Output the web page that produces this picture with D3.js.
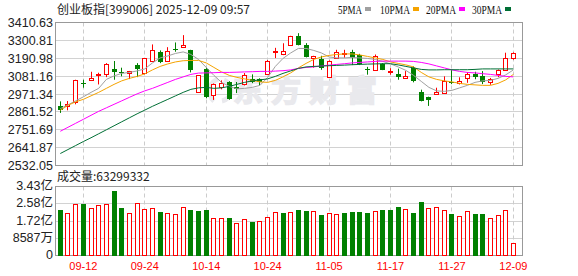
<!DOCTYPE html>
<html><head><meta charset="utf-8">
<script src="https://cdn.jsdelivr.net/npm/d3@7"></script>
<style>body{margin:0;background:#fff}svg{display:block}</style>
</head><body><svg id="c" width="578" height="276"></svg>
<script>
const titleText = "创业板指[399006] 2025-12-09 09:57";
const volLabelText = "成交量:63299332";
const dates = ["09-09","09-10","09-11","09-12","09-15","09-16","09-17","09-18","09-19","09-22","09-23","09-24","09-25","09-26","09-29","09-30","10-09","10-10","10-13","10-14","10-15","10-16","10-17","10-20","10-21","10-22","10-23","10-24","10-27","10-28","10-29","10-30","10-31","11-03","11-04","11-05","11-06","11-07","11-10","11-11","11-12","11-13","11-14","11-17","11-18","11-19","11-20","11-21","11-24","11-25","11-26","11-27","11-28","12-01","12-02","12-03","12-04","12-05","12-08","12-09"];
const openP = [2897.6,2896,2922,3038,3055,3088,3092,3122,3106,3100,3149,3100,3174,3227,3174,3250,3259,3239,2984,3127,2966,3014,3045,3014,3030,3064,3062,3094,3232,3218,3272,3325,3270,3190,3186,3075,3194,3218,3227,3214,3126,3120,3157,3106,3096,3071,3130,2986,2950,2974,2980,3046,3040,3070,3094,3080,3046,3094,3120,3194];
const highP = [2926,2928,3059,3059,3108,3102,3161,3174,3133,3113,3161,3190,3276,3239,3259,3288,3333,3243,3086,3133,3036,3055,3050,3045,3100,3092,3068,3180,3255,3283,3329,3345,3284,3206,3206,3178,3243,3243,3243,3218,3138,3214,3161,3130,3127,3112,3141,2998,2955,3010,3080,3118,3074,3106,3108,3112,3070,3122,3225,3227];
const lowP = [2855,2871,2908,3010,3051,3030,3075,3059,3080,3063,3075,3092,3170,3161,3170,3231,3255,3104,2981,2945,2935,3000,2936,2977,3024,3038,3025,3090,3192,3210,3268,3270,3196,3133,3120,3071,3190,3194,3149,3149,3090,3116,3118,3090,3059,3069,3043,2926,2898,2966,2972,3032,3030,3040,3062,3032,3028,3075,3118,3182];
const closeP = [2871,2908,3059,3030,3071,3096,3153,3104,3103,3112,3124,3190,3243,3165,3238,3241,3272,3116,3086,2953,3032,3039,2943,3000,3088,3045,3048,3176,3237,3234,3329,3272,3198,3202,3133,3174,3231,3222,3194,3153,3122,3206,3120,3110,3075,3079,3049,2928,2935,2986,3050,3036,3054,3097,3078,3046,3065,3116,3194,3226];
const prevClose0 = 2890;
const volume = [2.26,2.10,2.545,2.56,2.345,2.495,2.545,3.21,2.36,2.10,2.595,2.295,2.345,2.16,2.10,2.045,2.395,2.26,2.21,2.26,1.845,1.845,1.845,1.597,1.796,1.677,1.71,1.896,2.16,2.11,2.146,2.26,2.21,2.21,2.01,2.10,2.045,2.11,2.16,2.16,2.11,2.21,2.26,2.26,2.41,2.31,2.11,2.675,2.36,2.41,2.26,2.06,1.946,2.21,2.06,2.06,1.846,1.996,2.26,0.633];
const ma5 = [2881.5,2904.8,2929.3,2953.8,2981.4,3006,3061.1,3082.6,3097.9,3104,3113.2,3125.5,3162.3,3193,3205.2,3220.6,3229.8,3214.5,3183.7,3134.7,3085.7,3042.7,3018.2,3002.9,3006,3012.1,3024.4,3073.4,3140.8,3189.9,3223.6,3251.2,3251.2,3239,3223.6,3199.1,3193,3193,3196,3193,3189.9,3183.7,3171.5,3156.2,3137.7,3116.3,3085.7,3049,3012.1,2990.6,2987.6,2993.7,3009,3024.4,3042.7,3052,3055,3067.3,3088.9,3119.4];
const ma10 = [2871.1,2901.7,2923.2,2938.5,2960,2981.4,3006,3030.5,3052,3067.3,3079.5,3094.9,3119.4,3140.8,3156.2,3168.4,3175.8,3177.6,3177.6,3162.3,3134.7,3107.1,3085.7,3073.4,3064.2,3055,3045.8,3042.7,3055,3076.5,3101,3131.7,3159.3,3183.7,3199.1,3208.3,3214.4,3217.5,3217.5,3211.4,3202.2,3193,3183.7,3168.4,3159.3,3150.1,3137.7,3104,3076.5,3061.1,3052,3045.8,3036.6,3030.5,3027.4,3024.4,3024.4,3036.6,3058.1,3091.8];
const ma20 = [2742.3,2766.8,2791.3,2815.8,2840.4,2864.9,2886.4,2907.9,2929.3,2950.8,2972.2,2990.6,3006,3024.4,3042.7,3061.1,3076.5,3091.8,3099.8,3101,3102.2,3104,3104,3105.3,3107.1,3108.3,3110.2,3110.2,3112,3114.5,3119.4,3128.6,3134.7,3137.7,3143.9,3148.8,3153.1,3157.4,3162.3,3165.4,3168.4,3171.5,3173.4,3173.4,3173.4,3173.4,3171.5,3165.4,3156.2,3143.9,3131.7,3119.4,3110.2,3104,3101,3096.1,3091.8,3085.7,3079.5,3076.5];
const ma30 = [2605.6,2630.1,2654.7,2679.2,2702.5,2727,2751.5,2776.1,2800.6,2825.1,2849.6,2872.3,2895.6,2917.1,2938.5,2960,2981.4,2999.8,3009,3012.1,3006,3009,3018.2,3030.5,3042.7,3052,3058.1,3064.2,3079.5,3097.9,3113.2,3128.6,3137.7,3140.8,3142.7,3145.1,3147,3148.8,3151.3,3153.1,3155,3156.2,3157.4,3157.4,3150.1,3140.8,3131.7,3122.5,3119.4,3119.4,3120.6,3120.6,3120.6,3120.6,3122.5,3125.5,3125.5,3125.5,3125.5,3125.5];
const priceTicks = [2532.05,2641.87,2751.69,2861.52,2971.34,3081.16,3190.98,3300.81,3410.63];
const volTicks = [0,0.8587,1.7174,2.5761,3.4348];
const volTickLabels = ["0","8587万","1.72亿","2.58亿","3.43亿"];
const xTickLabels = ["09-12","09-24","10-14","10-24","11-05","11-17","11-27","12-09"];
const maNames = ["5PMA","10PMA","20PMA","30PMA"];

const RED="#ff0000", GREEN="#008000";
const maColors = ["#a0a0a0","#f5a300","#ff00ff","#006f35"];
const svg = d3.select("#c");
const L=55.5, R=522.5, PT=22.5, PB=165.5, VT=186.5, VB=255.5;
const crisp = v => Math.round(v-0.5)+0.5;

const x = d3.scalePoint().domain(dates).range([60.3, 513.4]);
const y = d3.scaleLinear().domain([priceTicks[0], priceTicks[priceTicks.length-1]]).range([PB, PT]);
const yv = d3.scaleLinear().domain([0, volTicks[volTicks.length-1]]).range([VB, VT]);

const font = "'Liberation Sans', Arial, 'Noto Sans CJK SC', sans-serif";

// grids
const g = svg.append("g");
g.selectAll(".hp").data(priceTicks.slice(1,-1)).join("line")
  .attr("x1",L).attr("x2",R).attr("y1",d=>crisp(y(d))).attr("y2",d=>crisp(y(d)))
  .attr("stroke","#d2d2d2");
g.selectAll(".hv").data(volTicks.slice(1,-1)).join("line")
  .attr("x1",L).attr("x2",R).attr("y1",d=>crisp(yv(d))).attr("y2",d=>crisp(yv(d)))
  .attr("stroke","#d2d2d2");
[[PT,PB],[VT,VB]].forEach(([t,b])=>{
  g.selectAll(null).data(xTickLabels).join("line")
    .attr("x1",d=>crisp(x(d))).attr("x2",d=>crisp(x(d))).attr("y1",t).attr("y2",b)
    .attr("stroke","#cccccc").attr("stroke-dasharray","4,3");
});

// watermark
const wm = svg.append("g").attr("fill","#e9e9ed");
wm.append("path").attr("d","M218,79 A13,13 0 0 0 214,101 M224,80 A11,11 0 0 1 222,101")
  .attr("fill","none").attr("stroke","#e9e9ed").attr("stroke-width",5);
wm.append("text").attr("x",233).attr("y",101).attr("font-size",30).attr("font-weight","bold")
  .attr("letter-spacing",8).attr("stroke","#e9e9ed").attr("stroke-width",1.6)
  .attr("font-family","'Noto Sans CJK SC', sans-serif").text("东方财富");

// frames
[[PT,PB],[VT,VB]].forEach(([t,b])=>{
  svg.append("rect").attr("x",L).attr("y",t).attr("width",R-L).attr("height",b-t)
    .attr("fill","none").attr("stroke","#999999");
});

// candles
const cg = svg.append("g");
dates.forEach((d,i)=>{
  const cx = x(d), left = Math.round(cx-2.5), mid = left+2.5;
  const up = closeP[i] >= openP[i];
  const col = up ? RED : GREEN;
  cg.append("line").attr("x1",mid).attr("x2",mid)
    .attr("y1",y(highP[i])).attr("y2",y(lowP[i])).attr("stroke",col);
  const top = y(Math.max(openP[i],closeP[i])), bot = y(Math.min(openP[i],closeP[i]));
  if (up) {
    cg.append("rect").attr("x",left+0.5).attr("width",4)
      .attr("y",Math.round(top)+0.5).attr("height",Math.max(1,Math.round(bot)-Math.round(top)))
      .attr("fill","#fff").attr("stroke",col);
  } else {
    cg.append("rect").attr("x",left).attr("width",5)
      .attr("y",Math.round(top)).attr("height",Math.max(1,Math.round(bot)-Math.round(top)))
      .attr("fill",col);
  }
});

// MA lines
[ma5,ma10,ma20,ma30].forEach((arr,k)=>{
  svg.append("path").datum(arr)
    .attr("d", d3.line().x((v,i)=>x(dates[i])).y(v=>y(v)))
    .attr("fill","none").attr("stroke",maColors[k]).attr("stroke-width",1);
});

// volume
const vg = svg.append("g");
dates.forEach((d,i)=>{
  const prev = i===0 ? prevClose0 : closeP[i-1];
  const up = closeP[i] >= prev;
  const left = Math.round(x(d)-2.5);
  const top = Math.round(yv(volume[i]));
  if (up) {
    vg.append("rect").attr("x",left+0.5).attr("width",4).attr("y",top+0.5)
      .attr("height",Math.round(VB-0.5)-top).attr("fill","#fff").attr("stroke",RED);
  } else {
    vg.append("rect").attr("x",left).attr("width",5).attr("y",top)
      .attr("height",Math.round(VB)-top).attr("fill",GREEN);
  }
});

// axis labels
svg.selectAll(".pl").data(priceTicks).join("text")
  .attr("x",53).attr("y",d=>y(d)).attr("dy","0.36em").attr("text-anchor","end")
  .attr("font-size",12.5).attr("font-family",font).attr("fill","#222").text(d=>d.toFixed(2));
svg.selectAll(".vl").data(volTicks).join("text")
  .attr("x",53).attr("y",d=>yv(d)-1).attr("dy","0.36em").attr("text-anchor","end")
  .attr("font-size",12.5).attr("font-family",font).attr("fill","#222").text((d,i)=>volTickLabels[i]);
svg.selectAll(".xl").data(xTickLabels).join("text")
  .attr("x",d=>x(d)).attr("y",270).attr("text-anchor","middle")
  .attr("font-size",11).attr("font-family",font).attr("fill",RED).text(d=>d);

// title & volume label
svg.append("text").attr("x",57).attr("y",14).attr("font-size",12)
  .attr("font-family","'Noto Sans CJK SC', sans-serif").attr("fill","#222").text(titleText);
svg.append("text").attr("x",57).attr("y",181).attr("font-size",12)
  .attr("font-family","'Noto Sans CJK SC', sans-serif").attr("fill","#222").text(volLabelText);

// legend
const legX = [338, 380, 426, 472];
maNames.forEach((n,k)=>{
  const tw = n.length*6;
  svg.append("text").attr("x",legX[k]).attr("y",13.5).attr("font-size",12.5)
    .attr("font-family","'Liberation Serif', serif").attr("fill","#111")
    .attr("textLength",tw).attr("lengthAdjust","spacingAndGlyphs").text(n);
  svg.append("rect").attr("x",legX[k]+tw+3).attr("y",7).attr("width",6).attr("height",4)
    .attr("fill",maColors[k]);
});
</script></body></html>
